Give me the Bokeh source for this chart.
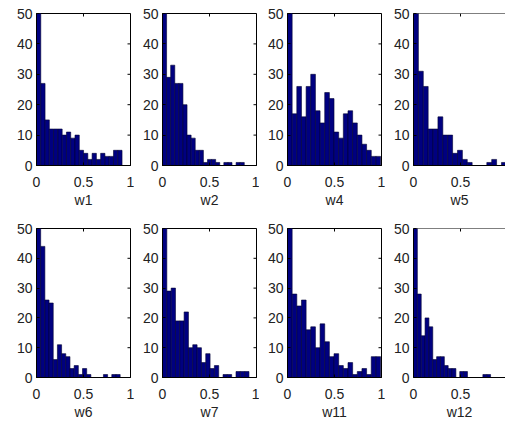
import numpy as np
from bokeh.plotting import figure
from bokeh.layouts import row, column
from bokeh.models import Range1d, FixedTicker, Span
from bokeh.embed import file_html
from bokeh.resources import INLINE

# ---- data (counts per bin, 20 bins from 0 to the series maximum; first bin is clipped at 50) ----
names = ["w1", "w2", "w4", "w5", "w6", "w7", "w11", "w12"]
w1 = [78, 27, 15, 12, 12, 12, 10, 11, 9, 10, 5, 4, 2, 4, 2, 4, 3, 3, 5, 5]
w2 = [70, 29, 33, 27, 27, 20, 10, 9, 5, 5, 1, 2, 2, 1, 0, 1, 1, 0, 1, 1]
w4 = [60, 17, 26, 16, 26, 30, 18, 14, 24, 22, 11, 9, 17, 18, 14, 10, 7, 5, 3, 3]
w5 = [72, 31, 26, 12, 12, 16, 10, 10, 4, 5, 2, 1, 0, 0, 0, 1, 2, 0, 1, 1]
w6 = [80, 44, 26, 25, 6, 11, 8, 7, 3, 4, 1, 3, 1, 0, 0, 0, 1, 0, 1, 1]
w7 = [75, 29, 30, 19, 19, 22, 10, 11, 10, 5, 8, 3, 4, 0, 1, 1, 0, 2, 2, 2]
w11 = [70, 28, 24, 26, 16, 17, 10, 18, 12, 7, 8, 4, 3, 5, 1, 2, 3, 1, 7, 7]
w12 = [68, 28, 14, 20, 17, 6, 7, 7, 4, 3, 3, 0, 2, 2, 0, 0, 0, 0, 1, 1]
series = [w1, w2, w4, w5, w6, w7, w11, w12]
xmaxes = [0.91, 0.87, 0.99, 1.04, 0.89, 0.92, 0.99, 0.82]
x_ticks = [0, 0.5, 1]
y_ticks = [0, 10, 20, 30, 40, 50]

FONT = "Liberation Sans"
BAR = "#000080"
EDGE = "#000030"
TXT = "#222222"

FRAME_W = 94
col_widths = [134, 125, 126, 120]
left_borders = [36, 28, 28, 28]
right_borders = [4, 3, 4, 0]
row_specs = [
    dict(height=215, top=13, bottom=50, tick_standoff=11, label_standoff=2),
    dict(height=207, top=13, bottom=41, tick_standoff=11, label_standoff=2),
]


def make(idx):
    r = idx // 4
    c = idx % 4
    spec = row_specs[r]
    last = (c == 3)
    w = col_widths[c]
    frame_w = w - left_borders[c] - right_borders[c]
    x_end = frame_w / FRAME_W
    p = figure(width=w, height=spec["height"],
               x_range=Range1d(0, x_end), y_range=Range1d(0, 50),
               output_backend="svg", toolbar_location=None,
               min_border_left=left_borders[c], min_border_right=right_borders[c],
               min_border_top=spec["top"], min_border_bottom=spec["bottom"],
               x_axis_label=names[idx])
    counts = np.array(series[idx], dtype=float)
    edges = np.linspace(0, xmaxes[idx], len(counts) + 1)
    p.quad(left=edges[:-1], right=edges[1:], bottom=0, top=counts,
           fill_color=BAR, line_color=EDGE, line_width=0.6)

    # inward ticks on the top and right edges (MATLAB box style)
    top_ticks = [t for t in x_ticks if t <= x_end]
    p.ray(x=top_ticks, y=[50] * len(top_ticks), length=3, length_units="screen",
          angle=-np.pi / 2, line_color="black", line_width=1)
    if not last:
        p.ray(x=[x_end] * len(y_ticks), y=y_ticks, length=3, length_units="screen",
              angle=np.pi, line_color="black", line_width=1)

    p.grid.visible = False
    p.background_fill_color = "white"
    p.border_fill_color = "white"
    if last:
        p.outline_line_color = None
        p.add_layout(Span(location=50, dimension="width", line_color="black", line_width=1))
    else:
        p.outline_line_color = "black"

    xa = p.xaxis[0]
    xa.ticker = FixedTicker(ticks=x_ticks)
    xa.major_label_overrides = {0: "0", 0.5: "0.5", 1: "1"}
    ya = p.yaxis[0]
    ya.ticker = FixedTicker(ticks=y_ticks)
    for ax in (xa, ya):
        ax.major_tick_in = 3
        ax.major_tick_out = 0
        ax.minor_tick_line_color = None
        ax.axis_line_color = "black"
        ax.major_tick_line_color = "black"
        ax.major_label_text_font = FONT
        ax.major_label_text_font_size = "14px"
        ax.major_label_text_color = TXT
    ya.major_label_standoff = 4
    xa.major_label_standoff = spec["tick_standoff"]
    xa.axis_label_standoff = spec["label_standoff"]
    xa.axis_label_text_font = FONT
    xa.axis_label_text_font_size = "14px"
    xa.axis_label_text_font_style = "normal"
    xa.axis_label_text_color = TXT
    return p


figs = [make(i) for i in range(8)]
layout = column(row(*figs[:4], spacing=0), row(*figs[4:], spacing=0), spacing=0)

open("out.html", "w").write(file_html(layout, INLINE))
